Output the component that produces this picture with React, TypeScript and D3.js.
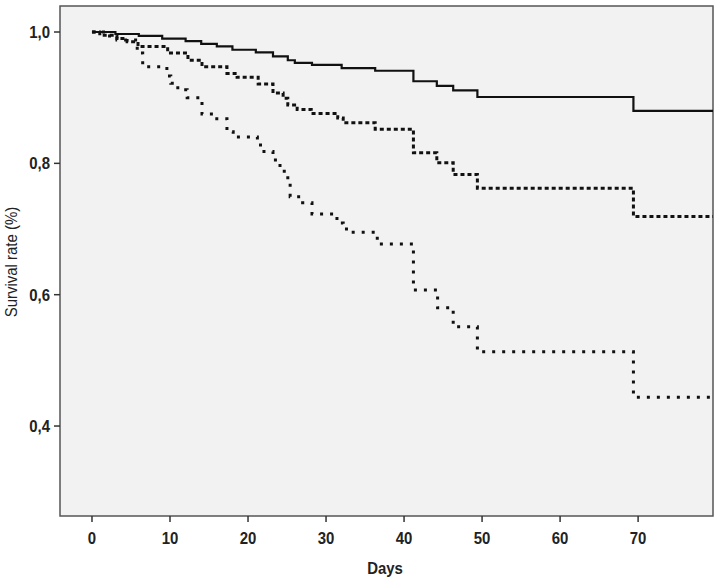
import { useEffect, useRef } from "react";
import * as d3 from "d3";

// Kaplan-Meier steps: day of each drop and survival after it
const solidDays = [0, 3, 6, 9, 12, 14, 16, 18, 21, 23.2, 25.1, 26, 28.2, 32, 36.3, 41.2, 44.2, 46.3, 49.4, 69.4];
const solidSurv = [1.0, 0.997, 0.994, 0.99, 0.986, 0.982, 0.978, 0.973, 0.969, 0.963, 0.957, 0.953, 0.95, 0.945, 0.941, 0.925, 0.918, 0.911, 0.901, 0.88];

const midDays = [0, 1, 3.2, 4.5, 5.9, 9.7, 12.3, 14.1, 17.3, 18.6, 21.3, 23.2, 24.5, 25.1, 26.3, 28.1, 31.5, 32.2, 36.3, 41.2, 44.2, 46.3, 49.4, 69.4];
const midSurv = [1.0, 0.995, 0.99, 0.985, 0.978, 0.968, 0.957, 0.947, 0.937, 0.931, 0.921, 0.907, 0.899, 0.889, 0.882, 0.876, 0.869, 0.862, 0.852, 0.816, 0.801, 0.783, 0.762, 0.719];

const lowDays = [0, 2, 3.2, 5.8, 6.5, 9.6, 10.1, 11, 12.2, 14.1, 15.5, 17.3, 18.1, 21.2, 21.6, 23.2, 24.1, 25.1, 25.4, 27, 28.2, 31.4, 32.2, 33.1, 36.3, 36.9, 41.2, 44.3, 46.3, 49.4, 69.4];
const lowSurv = [1.0, 0.994, 0.988, 0.968, 0.947, 0.933, 0.922, 0.912, 0.9, 0.875, 0.868, 0.848, 0.84, 0.828, 0.818, 0.805, 0.788, 0.772, 0.749, 0.74, 0.723, 0.709, 0.7, 0.695, 0.686, 0.677, 0.607, 0.58, 0.551, 0.513, 0.444];

const xTicks = [0, 10, 20, 30, 40, 50, 60, 70];
const yTicks = [0.4, 0.6, 0.8, 1.0];
const lastDay = 79.6;

const W = 716;
const H = 580;
const font = "'Liberation Sans', Arial, sans-serif";
const narrow = 0.88; // squeeze to mimic Arial Narrow

const App = () => {
  const svgRef = useRef<SVGSVGElement | null>(null);

  useEffect(() => {
    if (!svgRef.current) return;
    const svg = d3.select(svgRef.current);
    svg.selectAll("*").remove();

    const margin = { top: 6, right: 3, bottom: 64, left: 60 };
    const bottom = H - margin.bottom;

    const x = d3.scaleLinear().domain([-4.1, 79.6]).range([margin.left, W - margin.right]);
    const y = d3.scaleLinear().domain([0.263, 1.0396]).range([bottom, margin.top]);

    svg
      .append("rect")
      .attr("x", margin.left)
      .attr("y", margin.top)
      .attr("width", W - margin.left - margin.right)
      .attr("height", bottom - margin.top)
      .attr("fill", "#f2f2f2")
      .attr("stroke", "#555")
      .attr("stroke-width", 1.5);

    const line = d3
      .line<[number, number]>()
      .x((d) => x(d[0]))
      .y((d) => y(d[1]))
      .curve(d3.curveStepAfter);

    const series = [
      { days: solidDays, surv: solidSurv, dash: null, w: 2.2 },
      { days: midDays, surv: midSurv, dash: "4,3", w: 3 },
      { days: lowDays, surv: lowSurv, dash: "3,7", w: 3 },
    ];

    series.forEach((s) => {
      const pts: [number, number][] = s.days.map((d, i) => [d, s.surv[i]]);
      pts.push([lastDay, s.surv[s.surv.length - 1]]);
      const p = svg
        .append("path")
        .datum(pts)
        .attr("fill", "none")
        .attr("stroke", "#111")
        .attr("stroke-width", s.w)
        .attr("d", line);
      if (s.dash) p.attr("stroke-dasharray", s.dash);
    });

    // ticks
    svg
      .append("g")
      .selectAll("line")
      .data(xTicks)
      .join("line")
      .attr("x1", (d) => x(d))
      .attr("x2", (d) => x(d))
      .attr("y1", bottom)
      .attr("y2", bottom + 6)
      .attr("stroke", "#333")
      .attr("stroke-width", 1.5);

    svg
      .append("g")
      .selectAll("line")
      .data(yTicks)
      .join("line")
      .attr("x1", margin.left - 6)
      .attr("x2", margin.left)
      .attr("y1", (d) => y(d))
      .attr("y2", (d) => y(d))
      .attr("stroke", "#333")
      .attr("stroke-width", 1.5);

    const label = (tx: number, ty: number, anchor: string, bold: boolean, size: number, rot = 0) =>
      svg
        .append("text")
        .attr("transform", `translate(${tx},${ty}) rotate(${rot}) scale(${narrow},1)`)
        .attr("text-anchor", anchor)
        .attr("font-family", font)
        .attr("font-weight", bold ? "bold" : "normal")
        .attr("font-size", size)
        .attr("fill", "#222");

    xTicks.forEach((t) => label(x(t), 544, "middle", true, 17).text(String(t)));
    yTicks.forEach((t) =>
      label(margin.left - 10, y(t) + 6, "end", true, 17).text(d3.format(".1f")(t).replace(".", ","))
    );

    label(385, 574, "middle", true, 17).text("Days");
    label(17, 262, "middle", false, 17, -90).text("Survival rate (%)");
  }, []);

  return (
    <div style={{ position: "absolute", left: 0, top: 0 }}>
      <svg ref={svgRef} width={W} height={H} style={{ display: "block", background: "#fff" }} />
    </div>
  );
};

export default App;
